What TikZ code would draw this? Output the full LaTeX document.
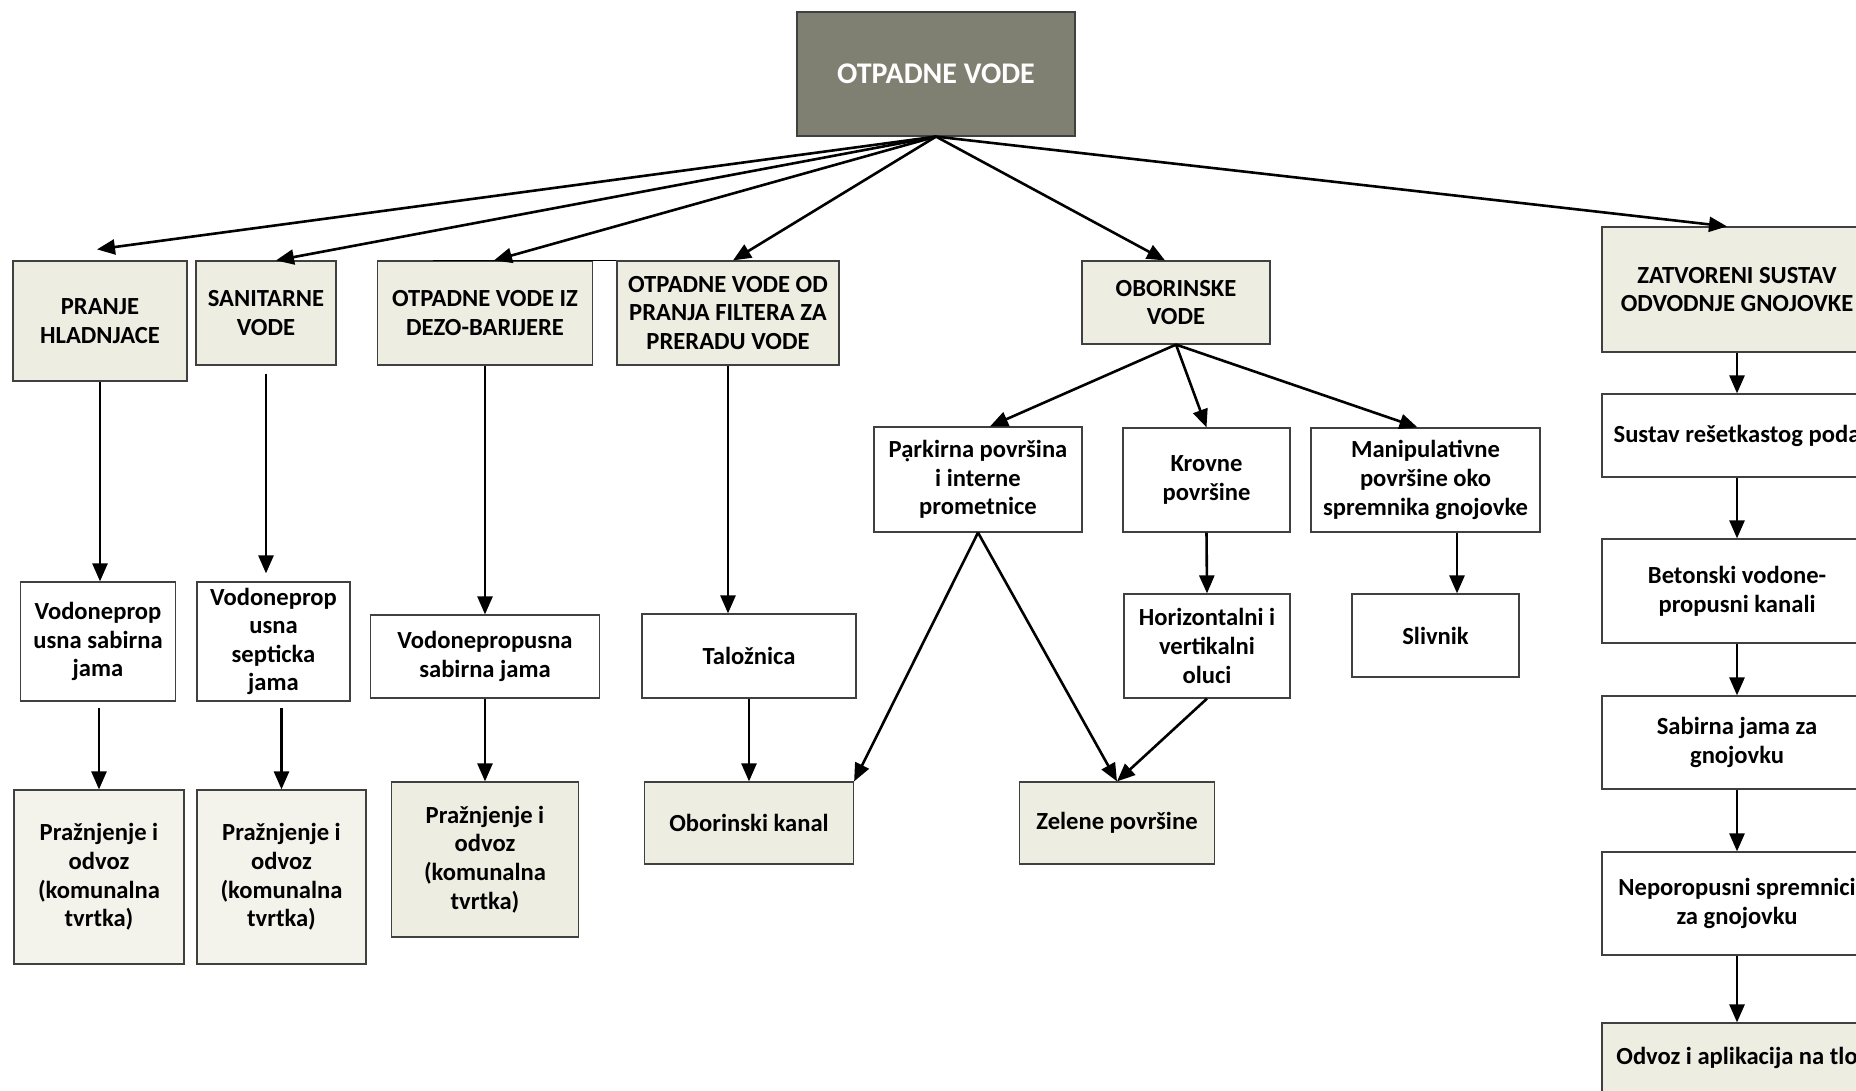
\documentclass[tikz,border=0pt]{standalone}
\usepackage{fontspec}
\setmainfont{Carlito}
\usepackage{tikz}
\usetikzlibrary{arrows.meta,calc}
\definecolor{headfill}{RGB}{128,128,114}
\definecolor{tanfill}{RGB}{238,237,226}
\definecolor{palefill}{RGB}{243,242,235}

\begin{document}
\begin{tikzpicture}[x=0.5pt, y=-0.5pt, > = {Triangle[length=9pt,width=7.5pt]},
    box/.style = {draw=black!75, line width=0.6pt, fill=white, align=center, inner sep=0pt,
                  font=\fontsize{12.3}{14.3}\selectfont\bfseries},
    tanbox/.style = {box, fill=tanfill},
    palebox/.style = {box, fill=palefill},
    link/.style = {->, line width=1.3pt}]
    \useasboundingbox (0,0) rectangle (1856,1091);

    % glavni cvor
    \node[box, fill=headfill, text=white, font=\fontsize{15}{18}\selectfont\bfseries,
          minimum width=139pt, minimum height=62pt] (top) at (936,74) {OTPADNE VODE};

    % prva razina
    \node[tanbox, minimum width=87pt, minimum height=60pt] (hlad) at (100,321) {PRANJE\\HLADNJACE};
    \node[tanbox, minimum width=70pt, minimum height=52pt] (sanit) at (266,313) {SANITARNE\\VODE};
    \node[tanbox, minimum width=107.5pt, minimum height=52pt] (dezo) at (485,313) {OTPADNE VODE IZ\\DEZO-BARIJERE};
    \node[tanbox, minimum width=111pt, minimum height=52pt] (filter) at (728,313) {OTPADNE VODE OD\\PRANJA FILTERA ZA\\PRERADU VODE};
    \node[tanbox, minimum width=94pt, minimum height=41.5pt] (obor) at (1176,302.5) {OBORINSKE\\VODE};
    \node[tanbox, minimum width=135pt, minimum height=62.5pt] (zatv) at (1737,289.5) {ZATVORENI SUSTAV\\ODVODNJE GNOJOVKE};

    % druga razina
    \node[box, minimum width=77.5pt, minimum height=59.5pt] (jama1) at (98,641.5) {Vodoneprop\\usna sabirna\\jama};
    \node[box, minimum width=76.5pt, minimum height=59.5pt] (jama2) at (273.5,641.5) {Vodoneprop\\usna\\septicka\\jama};
    \node[box, minimum width=114.5pt, minimum height=41.5pt] (jama3) at (485,656.5) {Vodonepropusna\\sabirna jama};
    \node[box, minimum width=107pt, minimum height=42pt] (talo) at (749,656) {Taložnica};
    \node[box, minimum width=104pt, minimum height=52.5pt] (park) at (978,479.5) {Pạrkirna površina\\i interne\\prometnice};
    \node[box, minimum width=83.5pt, minimum height=52pt] (krov) at (1206.5,480) {Krovne\\površine};
    \node[box, minimum width=114.5pt, minimum height=52pt] (manip) at (1425.5,480) {Manipulativne\\površine oko\\spremnika gnojovke};
    \node[box, minimum width=83pt, minimum height=52pt] (horiz) at (1207,646) {Horizontalni i\\vertikalni\\oluci};
    \node[box, minimum width=83.5pt, minimum height=41.5pt] (sliv) at (1435.5,635.5) {Slivnik};

    % gnojovka
    \node[box, minimum width=135pt, minimum height=41.5pt] (sustav) at (1737,435.5) {Sustav rešetkastog poda};
    \node[box, minimum width=135pt, minimum height=52pt] (beton) at (1737,591) {Betonski vodone-\\propusni kanali};
    \node[box, minimum width=135pt, minimum height=46.5pt] (sabj) at (1737,742.5) {Sabirna jama za\\gnojovku};
    \node[box, minimum width=135pt, minimum height=51.5pt] (nepor) at (1737,903.5) {Neporopusni spremnici\\za gnojovku};
    \node[tanbox, minimum width=135pt, minimum height=35pt] (odvoz) at (1737,1058) {Odvoz i aplikacija na tlo};

    % treca razina
    \node[palebox, minimum width=85pt, minimum height=87pt] (praz1) at (99,877) {Pražnjenje i\\odvoz\\(komunalna\\tvrtka)};
    \node[palebox, minimum width=84.5pt, minimum height=87pt] (praz2) at (281.5,877) {Pražnjenje i\\odvoz\\(komunalna\\tvrtka)};
    \node[tanbox, minimum width=93.5pt, minimum height=77.5pt] (praz3) at (485,859.5) {Pražnjenje i\\odvoz\\(komunalna\\tvrtka)};
    \node[tanbox, minimum width=104.5pt, minimum height=41pt] (kanal) at (749,823) {Oborinski kanal};
    \node[tanbox, minimum width=97.5pt, minimum height=41pt] (zelene) at (1117,823) {Zelene površine};

    % strelice od glavnog cvora
    \draw[link] (top.south) -- ([xshift=-1.5pt,yshift=5.5pt]hlad.north);
    \draw[link] (top.south) -- ([xshift=5pt]sanit.north);
    \draw[link] (top.south) -- ([xshift=4.5pt]dezo.north);
    \draw[link] (top.south) -- ([xshift=2.5pt]filter.north);
    \draw[link] (top.south) -- ([xshift=-5.5pt]obor.north);
    \draw[link] (top.south) -- ([xshift=-5pt]zatv.north);
    \draw[line width=0.6pt] ($(dezo.north west)+(56,0)$) -- (filter.north west);

    % okomite strelice
    \draw[link] (hlad.south) -- (hlad.south |- jama1.north);
    \draw[link] ([yshift=-4pt]sanit.south) -- ([yshift=4pt]sanit.south |- jama2.north);
    \draw[link] (dezo.south) -- (jama3.north);
    \draw[link] (filter.south) -- (filter.south |- talo.north);
    \draw[link] ([yshift=-3pt]jama1.south -| praz1.north) -- (praz1.north);
    \draw[link] ($(jama2.south -| praz2.north)+(0,6)$) -- (praz2.north);
    \draw[link] (jama3.south) -- (praz3.north);
    \draw[link] (talo.south) -- (kanal.north);

    % oborinske vode
    \draw[link] (obor.south) -- ([xshift=6pt]park.north);
    \draw[link] (obor.south) -- (krov.north);
    \draw[link] (obor.south) -- ([xshift=-4pt]manip.north);
    \draw[link] (krov.south) -- (horiz.north);
    \coordinate (m1) at ($(manip.south)+(31.5,0)$);
    \draw[link] (m1) -- (m1 |- sliv.north);
    \draw[link] (park.south) -- (kanal.north east);
    \draw[link] (park.south) -- (zelene.north);
    \draw[link] (horiz.south) -- (zelene.north);

    % gnojovka
    \draw[link] (zatv.south) -- (sustav.north);
    \draw[link] (sustav.south) -- (beton.north);
    \draw[link] (beton.south) -- (sabj.north);
    \draw[link] (sabj.south) -- (nepor.north);
    \draw[link] (nepor.south) -- (odvoz.north);
\end{tikzpicture}
\end{document}
